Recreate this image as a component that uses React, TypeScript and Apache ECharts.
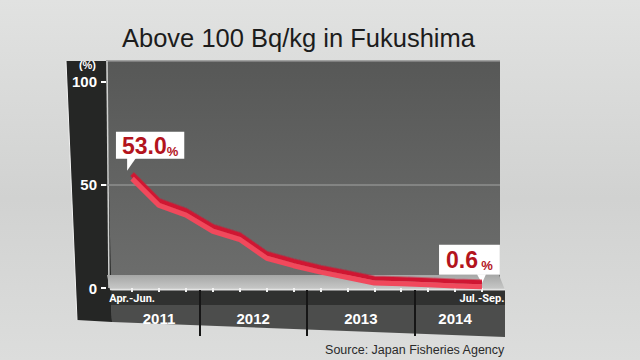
import React, { useEffect, useRef } from "react";
import * as echarts from "echarts";

// ---- data ----
const categories = [
  "Apr.-Jun. 2011", "Jul.-Sep. 2011", "Oct.-Dec. 2011",
  "Jan.-Mar. 2012", "Apr.-Jun. 2012", "Jul.-Sep. 2012", "Oct.-Dec. 2012",
  "Jan.-Mar. 2013", "Apr.-Jun. 2013", "Jul.-Sep. 2013", "Oct.-Dec. 2013",
  "Jan.-Mar. 2014", "Apr.-Jun. 2014", "Jul.-Sep. 2014",
];
const values = [53.0, 40.0, 35.3, 27.5, 23.5, 14.4, 10.8, 7.7, 5.1, 2.4, 2.0, 1.6, 1.0, 0.6];
const years = ["2011", "2012", "2013", "2014"];
const quartersPerYear = [3, 4, 4, 3];
const yTicks = [0, 50, 100];
const titleText = "Above 100 Bq/kg in Fukushima";
const sourceText = "Source: Japan Fisheries Agency";

// derived positions (category indices)
const yearCenters: number[] = [];
const yearBoundaries: number[] = [];
{
  let start = 0;
  quartersPerYear.forEach((n, k) => {
    yearCenters.push(start + (n - 1) / 2);
    if (k > 0) yearBoundaries.push(start - 0.5);
    start += n;
  });
}
const lastIdx = categories.length - 1;
const quarterOf = (c: string) => c.split(" ")[0];

const SANS = "'Liberation Sans', Arial, sans-serif";
const ROBOTO = "Roboto, 'Liberation Sans', sans-serif";
const RED = "#b3141d";

export default function App() {
  const ref = useRef<HTMLDivElement>(null);
  useEffect(() => {
    if (!ref.current) return;
    const chart = echarts.init(ref.current, undefined, { renderer: "svg" });

    const seriesData = values.map((v, i) => {
      const item: any = { value: [i, v] };
      if (i === 0 || i === lastIdx) {
        const first = i === 0;
        item.label = {
          show: true,
          position: "top",
          distance: 0,
          offset: first ? [18, -20] : [-12.5, -12],
          backgroundColor: "#ffffff",
          padding: first ? [3, 6, 1, 6] : [4, 7, 3, 7],
          formatter: (p: any) =>
            first
              ? `{v|${p.value[1].toFixed(1)}}{p|%}`
              : `{v|${p.value[1].toFixed(1)}} {p|%}`,
          rich: {
            v: { fontSize: 23, fontWeight: "bold", color: RED, fontFamily: SANS, lineHeight: 23 },
            p: { fontSize: 13, fontWeight: "bold", color: RED, fontFamily: SANS, lineHeight: 23, verticalAlign: "bottom" },
          },
        };
      }
      return item;
    });

    const xMin = -0.97;
    const xMax = 13.67;

    const option: any = {
      animation: false,
      backgroundColor: {
        type: "linear", x: 0, y: 0, x2: 0, y2: 1,
        colorStops: [
          { offset: 0, color: "#e1e2e1" },
          { offset: 0.55, color: "#d1d2d1" },
          { offset: 1, color: "#dcdddc" },
        ],
      },
      title: [
        {
          text: titleText, left: 122, top: 25, padding: 0,
          textStyle: { fontFamily: SANS, fontSize: 25.5, fontWeight: "normal", color: "#1c1c1c" },
        },
        {
          text: sourceText, right: 135, top: 343, padding: 0,
          textStyle: { fontFamily: SANS, fontSize: 12.5, fontWeight: "normal", color: "#2a2a2a" },
        },
      ],
      grid: {
        left: 106, right: 140, top: 61, bottom: 72, show: true, borderWidth: 0, z: 0,
        backgroundColor: {
          type: "linear", x: 0, y: 0, x2: 0, y2: 1,
          colorStops: [
            { offset: 0, color: "#575857" },
            { offset: 1, color: "#6d6e6d" },
          ],
        },
      },
      graphic: [
        { type: "polygon", z: 1, shape: { points: [[66, 61], [106, 61], [112, 322], [77, 320]] }, style: { fill: "#252625" } },
        { type: "line", z: 1, shape: { x1: 66, y1: 61, x2: 77, y2: 320 }, style: { stroke: "#f2f2f2", lineWidth: 1 } },
        { type: "line", z: 1, shape: { x1: 106, y1: 61, x2: 500, y2: 61 }, style: { stroke: "#8c8d8c", lineWidth: 1.5 } },
        { type: "line", z: 1, shape: { x1: 107, y1: 61, x2: 109, y2: 288 }, style: { stroke: "#d0d1d0", lineWidth: 1.5 } },
        {
          type: "polygon", z: 1,
          shape: { points: [[107, 275], [499, 275], [505, 290], [110, 290]] },
          style: {
            fill: {
              type: "linear", x: 0, y: 0, x2: 0, y2: 1,
              colorStops: [{ offset: 0, color: "#a6a7a6" }, { offset: 1, color: "#c9cac9" }],
            },
          },
        },
        { type: "line", z: 1, shape: { x1: 110, y1: 289.5, x2: 505, y2: 289.5 }, style: { stroke: "#e2e3e2", lineWidth: 1.5 } },
        { type: "rect", z: 1, shape: { x: 111, y: 290.5, width: 394, height: 15 }, style: { fill: "#303130" } },
        { type: "polygon", z: 1, shape: { points: [[111, 305], [505, 305], [505, 337], [112, 322]] }, style: { fill: "#4c4d4c" } },
      ],
      xAxis: [
        {
          type: "value", min: xMin, max: xMax, position: "bottom", z: 5,
          axisLine: { show: false, onZero: false }, splitLine: { show: false },
          axisTick: {
            show: true, customValues: categories.map((_, i) => i), length: 4, inside: false,
            lineStyle: { color: "#f2f2f2", width: 2 },
          },
          axisLabel: {
            customValues: [0, lastIdx],
            formatter: (v: number) => quarterOf(categories[Math.round(v)] || ""),
            color: "#ffffff", fontSize: 11, fontWeight: "bold", fontFamily: ROBOTO, margin: 5,
          },
        },
        {
          type: "value", min: xMin, max: xMax, position: "bottom", offset: 2, z: 5,
          axisLine: { show: false, onZero: false }, splitLine: { show: false },
          axisTick: {
            show: true, customValues: yearBoundaries, length: 46, inside: false,
            lineStyle: { color: "#161616", width: 2 },
          },
          axisLabel: {
            customValues: yearCenters,
            formatter: (v: number) => years[yearCenters.indexOf(v)] || "",
            color: "#ffffff", fontSize: 15, fontWeight: "bold", fontFamily: SANS, margin: 21,
          },
        },
      ],
      yAxis: {
        type: "value", min: 0, max: 110, interval: 50, position: "left", z: 5,
        name: "(%)", nameLocation: "end", nameGap: -4,
        nameTextStyle: { color: "#ffffff", fontSize: 11, fontWeight: "bold", fontFamily: SANS, align: "right", verticalAlign: "middle", padding: [0, 10, 0, 0] },
        axisLine: { show: false, onZero: false },
        axisTick: { show: true, customValues: yTicks, length: 5, lineStyle: { color: "#ffffff", width: 2 } },
        axisLabel: {
          customValues: yTicks, color: "#ffffff", fontSize: 15, fontWeight: "bold", fontFamily: SANS, margin: 9,
          formatter: (v: number) => (yTicks.indexOf(v) >= 0 ? String(v) : ""),
        },
        splitLine: { show: true, showMinLine: false, showMaxLine: false, lineStyle: { color: "#8e8f8e", width: 1.5 } },
      },
      series: [
        {
          type: "line", z: 6, xAxisIndex: 0, yAxisIndex: 0,
          data: seriesData,
          symbol: "circle", symbolSize: 0, showSymbol: true,
          itemStyle: { color: "#d2142f" },
          lineStyle: {
            width: 5, color: "#f0485c",
            shadowColor: "#cf1330", shadowBlur: 0, shadowOffsetX: 0, shadowOffsetY: -4.5,
          },
          emphasis: { disabled: true },
          markPoint: {
            silent: true,
            label: { show: false },
            itemStyle: { color: "#ffffff" },
            data: [
              { coord: [0, values[0]], symbol: "path://M0,0L9,0L0,13Z", symbolSize: [9, 13], symbolOffset: [-0.5, -14.5] },
              { coord: [lastIdx, values[lastIdx]], symbol: "path://M0,0L9,0L5,9Z", symbolSize: [9, 9], symbolOffset: [-0.5, -8] },
            ],
          },
        },
      ],
    };

    chart.setOption(option);
    return () => chart.dispose();
  }, []);

  return <div ref={ref} style={{ width: 640, height: 360, position: "absolute", left: 0, top: 0 }} />;
}
